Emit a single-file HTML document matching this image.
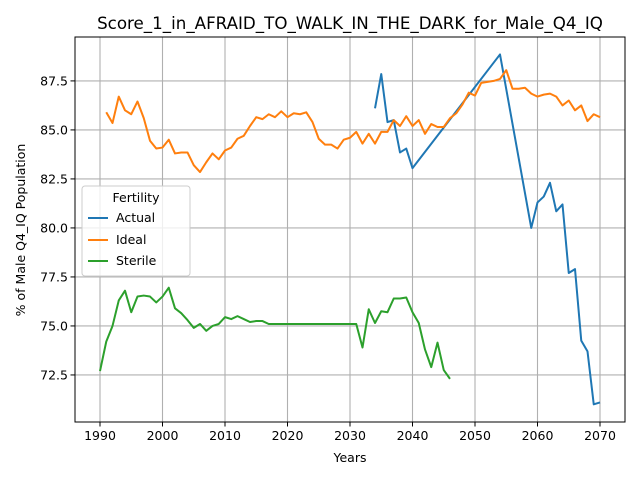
<!DOCTYPE html>
<html><head><meta charset="utf-8"><style>
body{margin:0;background:#fff;font-family:"Liberation Sans","DejaVu Sans",sans-serif;}
svg text{font-family:"DejaVu Sans","Liberation Sans",sans-serif;}
</style></head><body>
<svg id="chart" width="640" height="480" xmlns="http://www.w3.org/2000/svg">
<rect width="640" height="480" fill="#fff"/>
<text x="350" y="29" font-size="16.7" text-anchor="middle">Score_1_in_AFRAID_TO_WALK_IN_THE_DARK_for_Male_Q4_IQ</text>
<g id="grid"></g><g id="series"></g><g id="axes"></g>
<text x="350" y="462" font-size="12.5" text-anchor="middle">Years</text>
<text x="0" y="0" font-size="12.5" text-anchor="middle" transform="translate(25,230) rotate(-90)">% of Male Q4_IQ Population</text>
<g>
<rect x="82" y="186" width="108" height="90" rx="3" fill="#fff" fill-opacity="0.8" stroke="#ccc"/>
<text x="136" y="202" font-size="12.5" text-anchor="middle">Fertility</text>
<line x1="88" y1="218" x2="108" y2="218" stroke="#1f77b4" stroke-width="2"/>
<text x="116" y="222" font-size="12.5">Actual</text>
<line x1="88" y1="240" x2="108" y2="240" stroke="#ff7f0e" stroke-width="2"/>
<text x="116" y="244" font-size="12.5">Ideal</text>
<line x1="88" y1="261" x2="108" y2="261" stroke="#2ca02c" stroke-width="2"/>
<text x="116" y="265" font-size="12.5">Sterile</text>
</g>
</svg>
<script>
const xTicks=[1990,2000,2010,2020,2030,2040,2050,2060,2070];
const yTicks=[72.5,75.0,77.5,80.0,82.5,85.0,87.5];
const actualYears=[2034,2035,2036,2037,2038,2039,2040,2054,2059,2060,2061,2062,2063,2064,2065,2066,2067,2068,2069,2070];
const actualValues=[86.1,87.85,85.4,85.5,83.85,84.05,83.05,88.85,80.0,81.3,81.6,82.3,80.85,81.2,77.7,77.9,74.25,73.7,71.0,71.1];
const idealStart=1991;
const idealValues=[85.9,85.35,86.7,86.0,85.8,86.45,85.6,84.45,84.05,84.1,84.5,83.8,83.85,83.85,83.2,82.85,83.35,83.8,83.5,83.95,84.1,84.55,84.7,85.2,85.65,85.55,85.8,85.65,85.95,85.65,85.85,85.8,85.9,85.4,84.55,84.25,84.25,84.05,84.5,84.6,84.9,84.3,84.8,84.3,84.9,84.9,85.5,85.2,85.7,85.2,85.5,84.8,85.3,85.15,85.15,85.6,85.85,86.3,86.9,86.75,87.4,87.45,87.5,87.6,88.05,87.1,87.1,87.15,86.85,86.7,86.8,86.85,86.7,86.25,86.5,86.0,86.25,85.45,85.8,85.65];
const sterileStart=1990;
const sterileValues=[72.7,74.2,75.0,76.3,76.8,75.7,76.5,76.55,76.5,76.2,76.5,76.95,75.9,75.65,75.3,74.9,75.1,74.75,75.0,75.1,75.45,75.35,75.5,75.35,75.2,75.25,75.25,75.1,75.1,75.1,75.1,75.1,75.1,75.1,75.1,75.1,75.1,75.1,75.1,75.1,75.1,75.1,73.9,75.85,75.15,75.75,75.7,76.4,76.4,76.45,75.7,75.15,73.8,72.9,74.15,72.75,72.3];
const L=75,R=625,T=37,B=422;
const xmin=1986,xmax=2074,ymin=70.1,ymax=89.74;
const X=v=>L+(v-xmin)/(xmax-xmin)*(R-L);
const Y=v=>B-(v-ymin)/(ymax-ymin)*(B-T);
const NS="http://www.w3.org/2000/svg";
function mk(tag,attrs,parent){const e=document.createElementNS(NS,tag);for(const k in attrs)e.setAttribute(k,attrs[k]);parent.appendChild(e);return e;}
const grid=document.getElementById('grid'),axes=document.getElementById('axes'),series=document.getElementById('series');
xTicks.forEach(t=>{
 const g=mk('line',{x1:X(t),x2:X(t),y1:T,y2:B,stroke:'#b0b0b0','stroke-width':1.1},grid);
 
 
 mk('line',{x1:X(t),x2:X(t),y1:B,y2:B+4.5,stroke:'#000','stroke-width':1},axes);
 const tx=mk('text',{x:X(t),y:B+18,'font-size':12.5,'text-anchor':'middle'},axes);tx.textContent=t;
 
 
});
yTicks.forEach(t=>{
 const g=mk('line',{x1:L,x2:R,y1:Y(t),y2:Y(t),stroke:'#b0b0b0','stroke-width':1.1},grid);
 
 
 mk('line',{x1:L-4.5,x2:L,y1:Y(t),y2:Y(t),stroke:'#000','stroke-width':1},axes);
 const tx=mk('text',{x:L-7,y:Y(t)+4.5,'font-size':12.5,'text-anchor':'end'},axes);tx.textContent=t.toFixed(1);
 
 
});
const fr=mk('rect',{x:L,y:T,width:R-L,height:B-T,fill:'none',stroke:'#000','stroke-width':1},axes);


function line(xs,ys,color,name){
 const p=mk('polyline',{points:xs.map((x,i)=>X(x)+','+Y(ys[i])).join(' '),fill:'none',stroke:color,'stroke-width':2,'stroke-linejoin':'round'},series);
 
 
}
line(actualYears,actualValues,'#1f77b4','actual-line');
line(idealValues.map((_,i)=>idealStart+i),idealValues,'#ff7f0e','ideal-line');
line(sterileValues.map((_,i)=>sterileStart+i),sterileValues,'#2ca02c','sterile-line');
</script>
</body></html>
